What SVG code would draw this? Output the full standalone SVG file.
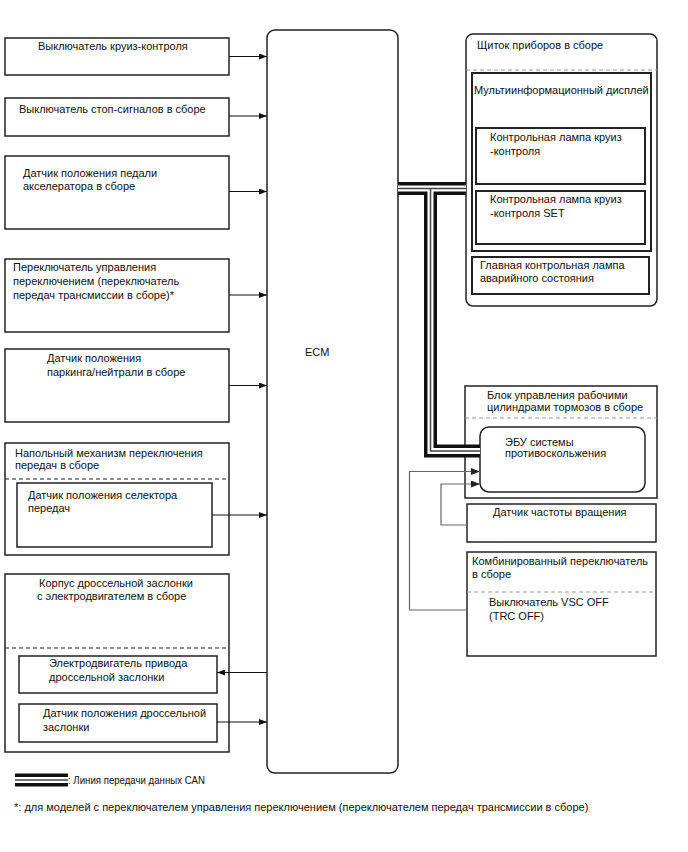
<svg xmlns="http://www.w3.org/2000/svg" width="688" height="852" viewBox="0 0 688 852">
<style>
text{font-family:"Liberation Sans",Arial,sans-serif;font-size:11px;fill:#111}
.small{font-size:10.5px}
.foot{font-size:11px}
.box{fill:#fff;stroke:#222;stroke-width:1.5}
.dash{stroke:#222;stroke-width:1.2;stroke-dasharray:4,3;fill:none}
.gdash{stroke:#999;stroke-width:1.2;stroke-dasharray:4,3;fill:none}
.sig{stroke:#111;stroke-width:1;fill:none;marker-end:url(#ah)}
.gsig{stroke:#666;stroke-width:1.2;fill:none;marker-end:url(#gah)}
.canO{stroke:#111;stroke-width:13;fill:none;stroke-linejoin:miter}
.canW{stroke:#fff;stroke-width:6;fill:none;stroke-linejoin:miter}
.canI{stroke:#444;stroke-width:1.5;fill:none}
</style>
<defs>
<marker id="ah" markerWidth="8" markerHeight="6" refX="8" refY="3" orient="auto" markerUnits="userSpaceOnUse"><path d="M0,0 L8,3 L0,6 z" fill="#111"/></marker>
<marker id="gah" markerWidth="9" markerHeight="7" refX="9" refY="3.5" orient="auto" markerUnits="userSpaceOnUse"><path d="M0,0 L9,3.5 L0,7 z" fill="#222"/></marker>
</defs>
<rect width="688" height="852" fill="#fff"/>

<g id="ecm">
<rect x="267" y="30" width="131" height="743" rx="8" class="box"/>
<text x="305" y="356">ECM</text>
</g>

<g id="cruise-switch">
<rect x="5" y="38" width="224" height="37" class="box"/>
<text x="38" y="50">Выключатель круиз-контроля</text>
</g>
<g id="stop-switch">
<rect x="5" y="98" width="224" height="38" class="box"/>
<text x="19" y="113">Выключатель стоп-сигналов в сборе</text>
</g>
<g id="accel-sensor">
<rect x="5" y="156" width="224" height="73" class="box"/>
<text x="23" y="177">Датчик положения педали</text>
<text x="23" y="190">акселератора в сборе</text>
</g>
<g id="shift-switch">
<rect x="5" y="259" width="224" height="73" class="box"/>
<text x="13" y="271">Переключатель управления</text>
<text x="13" y="285">переключением (переключатель</text>
<text x="13" y="299">передач трансмиссии в сборе)*</text>
</g>
<g id="pn-sensor">
<rect x="5" y="349" width="224" height="73" class="box"/>
<text x="47" y="362">Датчик положения</text>
<text x="47" y="376">паркинга/нейтрали в сборе</text>
</g>
<g id="floor-shift">
<rect x="5" y="443" width="224" height="112" class="box"/>
<text x="15" y="457">Напольный механизм переключения</text>
<text x="15" y="469">передач в сборе</text>
<line x1="5" y1="479" x2="229" y2="479" class="dash"/>
<g id="selector-sensor">
<rect x="17" y="483" width="195" height="64" class="box"/>
<text x="28" y="499">Датчик положения селектора</text>
<text x="28" y="512">передач</text>
</g>
</g>
<g id="throttle-body">
<rect x="5" y="574" width="224" height="178" class="box"/>
<text x="39" y="587">Корпус дроссельной заслонки</text>
<text x="37" y="600">с электродвигателем в сборе</text>
<line x1="5" y1="648" x2="229" y2="648" class="dash"/>
<g id="throttle-motor">
<rect x="19" y="656" width="198" height="37" class="box"/>
<text x="49" y="667">Электродвигатель привода</text>
<text x="49" y="681">дроссельной заслонки</text>
</g>
<g id="throttle-sensor">
<rect x="19" y="704" width="198" height="38" class="box"/>
<text x="43" y="717">Датчик положения дроссельной</text>
<text x="43" y="731">заслонки</text>
</g>
</g>

<g id="combination-meter">
<rect x="466" y="34" width="191" height="272" rx="7" class="box"/>
<text x="477" y="49">Щиток приборов в сборе</text>
<line x1="466" y1="70" x2="657" y2="70" class="gdash"/>
<g id="multi-display">
<rect x="472" y="73" width="179" height="178" class="box" style="stroke-width:2"/>
<text x="474" y="94">Мультиинформационный дисплей</text>
<g id="cruise-lamp">
<rect x="476" y="128" width="169" height="56" class="box" style="stroke-width:2"/>
<text x="490" y="141">Контрольная лампа круиз</text>
<text x="490" y="155">-контроля</text>
</g>
<g id="cruise-set-lamp">
<rect x="476" y="191" width="169" height="53" class="box" style="stroke-width:2"/>
<text x="490" y="203">Контрольная лампа круиз</text>
<text x="490" y="217">-контроля SET</text>
</g>
</g>
<g id="master-warning">
<rect x="472" y="257" width="177" height="37" class="box" style="stroke-width:2"/>
<text x="480" y="269">Главная контрольная лампа</text>
<text x="480" y="282">аварийного состояния</text>
</g>
</g>

<g id="brake-actuator">
<rect x="465" y="386" width="192" height="112" class="box"/>
<text x="487" y="399">Блок управления рабочими</text>
<text x="487" y="411">цилиндрами тормозов в сборе</text>
<line x1="465" y1="418" x2="657" y2="418" class="gdash"/>
<g id="skid-ecu">
<rect x="480" y="427" width="165" height="65" rx="9" class="box"/>
<text x="505" y="446">ЭБУ системы</text>
<text x="505" y="457">противоскольжения</text>
</g>
</g>
<g id="speed-sensor">
<rect x="467" y="504" width="189" height="38" class="box"/>
<text x="493" y="516">Датчик частоты вращения</text>
</g>
<g id="combination-switch">
<rect x="467" y="552" width="189" height="104" class="box"/>
<text x="472" y="565">Комбинированный переключатель</text>
<text x="472" y="578">в сборе</text>
<line x1="467" y1="592" x2="656" y2="592" class="gdash"/>
<text x="489" y="606">Выключатель VSC OFF</text>
<text x="489" y="620">(TRC OFF)</text>
</g>

<g id="connectors">
<line x1="229" y1="56.5" x2="267" y2="56.5" class="sig"/>
<line x1="229" y1="116" x2="267" y2="116" class="sig"/>
<line x1="229" y1="191.5" x2="267" y2="191.5" class="sig"/>
<line x1="229" y1="295" x2="267" y2="295" class="sig"/>
<line x1="229" y1="385.5" x2="267" y2="385.5" class="sig"/>
<line x1="212" y1="515" x2="267" y2="515" class="sig"/>
<line x1="267" y1="672.5" x2="217" y2="672.5" class="sig"/>
<line x1="217" y1="722" x2="267" y2="722" class="sig"/>
<path d="M467,610 H409.5 V471.5 H480" class="gsig"/>
<path d="M467,525 H441 V484 H480" class="gsig"/>
<g id="can-bus">
<path d="M398,188.5 H466 M430.5,188.5 V451 H480" class="canO"/>
<path d="M398,188.5 H466 M430.5,188.5 V451 H480" class="canW"/>
<path d="M398,188.5 H466 M430.5,188.5 V451 H480" class="canI"/>
</g>
</g>

<g id="legend">
<line x1="15" y1="780" x2="68" y2="780" class="canO"/>
<line x1="15" y1="780" x2="68" y2="780" class="canW"/>
<line x1="15" y1="780" x2="68" y2="780" class="canI"/>
<text x="68" y="783.5" class="small" textLength="137" lengthAdjust="spacingAndGlyphs">: Линия передачи данных CAN</text>
<text x="14" y="811" class="foot">*: для моделей с переключателем управления переключением (переключателем передач трансмиссии в сборе)</text>
</g>
</svg>
